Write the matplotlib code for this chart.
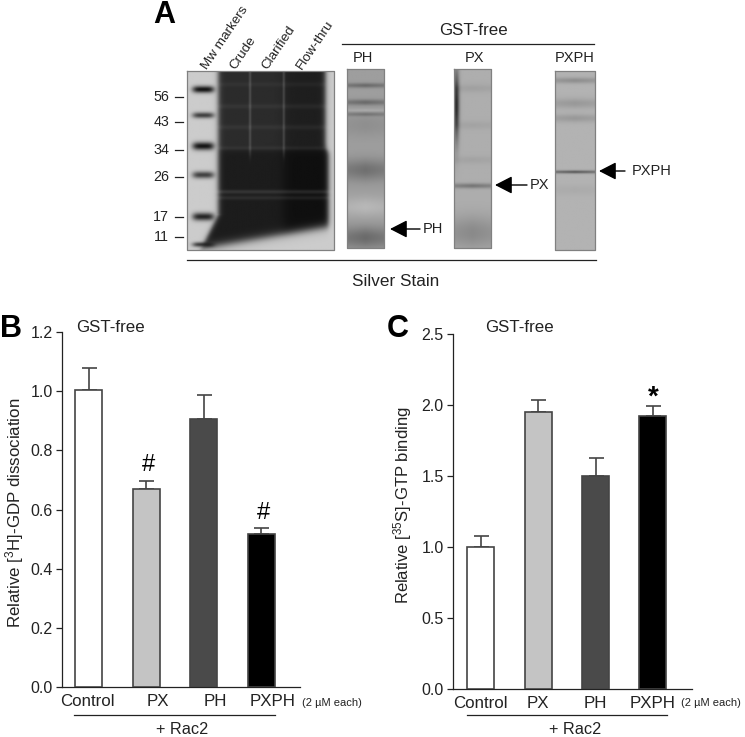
#!/usr/bin/env python3
import numpy as np
import matplotlib
matplotlib.use("Agg")
import matplotlib.pyplot as plt

plt.rcParams['font.family'] = ['Liberation Sans', 'DejaVu Sans']

W, H = 745, 737

labels = ["Control", "PX", "PH", "PXPH"]
bar_colors = ["white", "#c4c4c4", "#4a4a4a", "black"]

gdp_values = [1.005, 0.668, 0.906, 0.518]
gdp_err = [0.075, 0.029, 0.080, 0.019]
gdp_ticks = [0.0, 0.2, 0.4, 0.6, 0.8, 1.0, 1.2]
gdp_label_pos = [-0.02, 1.2, 2.2, 3.2]

gtp_values = [1.00, 1.95, 1.50, 1.92]
gtp_err = [0.075, 0.085, 0.13, 0.07]
gtp_ticks = [0.0, 0.5, 1.0, 1.5, 2.0, 2.5]
gtp_label_pos = [0, 1.0, 2.0, 3.0]

mw_labels = ["56", "43", "34", "26", "17", "11"]
mw_rows = [97, 122, 150, 177, 217, 237]
lane_names = ["Mw markers", "Crude", "Clarified", "Flow-thru"]
lane_x = [205, 233, 265, 299]

# gel bands as (row, sigma, depth), rows are figure pixels
marker_bands = [(89, 3.5, .72), (115, 3, .55), (146, 4, .72), (175, 3.5, .55), (217, 4, .65), (245, 2.5, .55)]
sample_bands = [(192, 2, -.1), (198, 2, -.07), (148, 2, -.05), (127, 2.5, -.04), (106, 2.5, -.04), (84, 2.5, -.03)]
ph_bands = [(85, 2.5, .2), (102, 3, .2), (110, 1.5, -.06), (114, 2, .14), (125, 12, .06), (170, 11, .18),
            (207, 10, -.1), (238, 11, .2)]
px_bands = [(88, 4, .05), (125, 4, .04), (160, 4, .04), (186, 2.5, .22), (233, 17, .14)]
pxph_bands = [(80, 3, .14), (103, 5, .1), (118, 4, .1), (172, 1.5, .36), (190, 5, .03)]


def profile(rows, bands):
    p = np.zeros_like(rows, dtype=float)
    for r, s, d in bands:
        p += d * np.exp(-((rows - r) / s) ** 2)
    return p


def edge(v, at, soft):
    return 1 / (1 + np.exp(-(v - at) / soft))


def strip(x0, x1, y0, y1, base, bands, left_dark=0.0):
    rows = np.arange(y0, y1 + 1.0)
    cols = np.arange(x0, x1 + 1.0)
    img = base - np.outer(profile(rows, bands), 1 - 0.25 * np.abs(cols - (x0 + x1) / 2) / ((x1 - x0) / 2))
    if left_dark:
        img -= left_dark * np.exp(-((cols - x0 - 2) / 3.0) ** 2) * np.exp(-((rows[:, None] - 105) / 35.0) ** 2)
    return np.clip(img, 0, 1)


def main_gel(x0, x1, y0, y1):
    rows = np.arange(y0, y1 + 1.0)[:, None]
    cols = np.arange(x0, x1 + 1.0)[None, :]
    markers = profile(rows[:, 0], marker_bands)[:, None] * np.exp(-((cols - 203) / 11.0) ** 4)
    light = 0.8 - markers
    # dark smear of the three sample lanes, soft on every side
    left = 218 - np.clip(rows - 215, 0, None) * 0.5
    right = 326 + 3 * edge(rows, 150, 2)
    bottom = 246 - (cols - 218) * 0.17
    mask = edge(cols, left, 1.5) * (1 - edge(cols, right, 1.5)) * (1 - edge(rows, bottom, 2.5))
    dark = 0.17 - 0.06 * edge(rows, 150, 2) - 0.05 * edge(cols, 284, 3)
    dark = dark - profile(rows[:, 0], sample_bands)[:, None]
    for sx in (250, 284):
        dark = dark + 0.14 * (1 - edge(rows, 155, 3)) * np.exp(-((cols - sx) / 1.2) ** 2)
    return np.clip(light * (1 - mask) + dark * mask, 0, 1)


fig = plt.figure(figsize=(W / 100, H / 100), dpi=100)


def px_axes(left, top, right, bottom):
    return fig.add_axes([left / W, 1 - bottom / H, (right - left) / W, (bottom - top) / H])


# overlay in pixel coordinates for panel A and the free text
bg = fig.add_axes([0, 0, 1, 1])
bg.set_xlim(0, W)
bg.set_ylim(H, 0)
bg.axis("off")

gels = [
    (187, 334, 71, 250, main_gel(187, 334, 71, 250)),
    (347, 384, 69, 248, strip(347, 384, 69, 248, 0.62, ph_bands)),
    (454, 491, 69, 248, strip(454, 491, 69, 248, 0.68, px_bands, left_dark=0.5)),
    (555, 595, 71, 250, strip(555, 595, 71, 250, 0.70, pxph_bands)),
]
for x0, x1, y0, y1, img in gels:
    bg.imshow(img, cmap="gray", vmin=0, vmax=1, extent=(x0, x1, y1, y0), aspect="auto", interpolation="bilinear")
    bg.plot([x0, x1, x1, x0, x0], [y0, y0, y1, y1, y0], color="#808080", lw=0.9)
bg.set_xlim(0, W)
bg.set_ylim(H, 0)

bg.text(164, 15, "A", fontsize=22, fontweight="bold", ha="center", va="center")
bg.text(11, 329, "B", fontsize=22, fontweight="bold", ha="center", va="center")
bg.text(398, 329, "C", fontsize=22, fontweight="bold", ha="center", va="center")

for name, x in zip(lane_names, lane_x):
    bg.text(x, 68, name, fontsize=9.7, rotation=56, rotation_mode="anchor", ha="left", va="center", color="#222222")
for lab, r in zip(mw_labels, mw_rows):
    bg.text(169, r, lab, fontsize=10.3, ha="right", va="center", color="#222222")
    bg.plot([174.5, 183], [r, r], color="#222222", lw=0.9)

bg.text(473, 30, "GST-free", fontsize=12.2, ha="center", va="center", color="#222222")
bg.plot([342, 594], [44, 44], color="#222222", lw=0.9)
for name, x in zip(["PH", "PX", "PXPH"], [363, 474, 575]):
    bg.text(x, 58, name, fontsize=10.5, ha="center", va="center", color="#222222")
bg.plot([187, 596], [260, 260], color="#222222", lw=0.9)
bg.text(396, 281, "Silver Stain", fontsize=12.3, ha="center", va="center", color="#222222")

for name, tip, tail, row, tx in [("PH", 390, 420, 229, 423), ("PX", 495, 527, 185, 530), ("PXPH", 599, 625, 171, 632)]:
    bg.annotate("", xy=(tip, row), xytext=(tail, row),
                arrowprops=dict(arrowstyle="-|>,head_length=0.7,head_width=0.36", color="black", lw=1,
                                shrinkA=0, shrinkB=0, mutation_scale=15))
    bg.text(tx, row, name, fontsize=10.5, ha="left", va="center", color="#222222")


def bar_panel(ax, values, err, ticks, label_pos, xlim, ylim, ylabel, label_xy, label_size):
    x = np.arange(len(values))
    ax.bar(x, values, width=0.47, color=bar_colors, edgecolor="#444444", linewidth=1.2, zorder=3)
    ax.errorbar(x, values, yerr=[np.zeros(len(err)), err], fmt="none", ecolor="#444444",
                elinewidth=1.2, capsize=5.4, capthick=1.2, zorder=2)
    ax.set_xlim(*xlim)
    ax.set_ylim(*ylim)
    ax.set_yticks(ticks, ["%.1f" % t for t in ticks])
    ax.set_xticks(label_pos, labels)
    ax.tick_params(axis="x", length=0, labelsize=12.2, pad=5, labelcolor="#222222")
    ax.tick_params(axis="y", length=4, width=0.9, labelsize=11.5, pad=3, color="#222222", labelcolor="#222222")
    ax.set_ylabel(ylabel, fontsize=label_size, color="#222222")
    ax.yaxis.set_label_coords(*label_xy)
    ax.patch.set_alpha(0)
    for s in ("top", "right"):
        ax.spines[s].set_visible(False)
    for s in ("left", "bottom"):
        ax.spines[s].set_linewidth(0.9)
        ax.spines[s].set_color("#222222")


ax_b = px_axes(62.3, 332, 300, 687)
bar_panel(ax_b, gdp_values, gdp_err, gdp_ticks, gdp_label_pos, (-0.46, 3.67), (0, 1.2),
          r"Relative [$\mathregular{^{3}}$H]-GDP dissociation", (-0.151, 0.4915), 12.2)
ax_c = px_axes(453.3, 334, 692, 689)
bar_panel(ax_c, gtp_values, gtp_err, gtp_ticks, gtp_label_pos, (-0.48, 3.68), (0, 2.5),
          r"Relative [$\mathregular{^{35}}$S]-GTP binding", (-0.166, 0.517), 12)

ax_b.text(1.03, gdp_values[1] + gdp_err[1] + 0.015, "#", fontsize=17, ha="center", va="bottom")
ax_b.text(3.03, gdp_values[3] + gdp_err[3] + 0.015, "#", fontsize=17, ha="center", va="bottom")
ax_c.text(3.0, gtp_values[3] + gtp_err[3] - 0.03, "*", fontsize=20, fontweight="bold", ha="center", va="bottom")

bg.text(76, 327, "GST-free", fontsize=12.2, ha="left", va="center", color="#222222")
bg.text(485, 327, "GST-free", fontsize=12.2, ha="left", va="center", color="#222222")

for x0, x1, cx, tx in [(74, 275, 182, 302), (467, 667, 575, 681)]:
    bg.plot([x0, x1], [715, 715], color="#222222", lw=0.9)
    bg.text(cx, 729, "+ Rac2", fontsize=11.7, ha="center", va="center", color="#222222")
    bg.text(tx, 703, "(2 \u00b5M each)", fontsize=8, ha="left", va="center", color="#222222")

fig.savefig("out.png", dpi=100)
